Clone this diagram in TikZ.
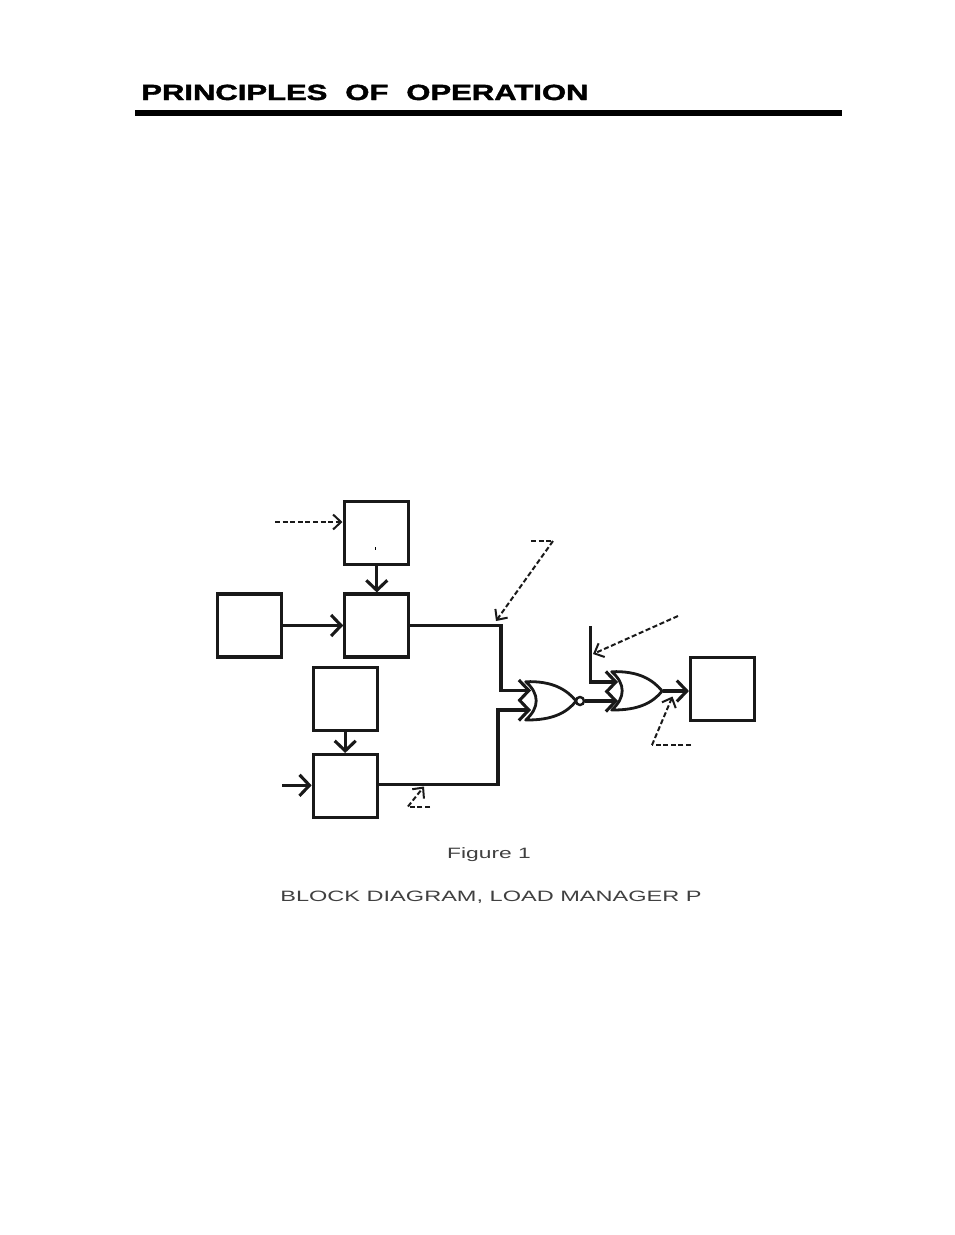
\documentclass[tikz,border=0pt]{standalone}
\usepackage{fontspec}
\setmainfont{Liberation Sans}
\newfontfamily\headfont[FakeBold=1.6]{Liberation Sans Bold}
\usetikzlibrary{arrows.meta}
\tikzset{
wire/.style={line width=3.1pt, color=black!90, line join=miter, -{Straight Barb[length=10pt,width=21pt,line width=3.1pt]}},
hint/.style={line width=2pt, color=black!90, dash pattern=on 5pt off 2.6pt, -{Straight Barb[length=8pt,width=15pt,line width=2pt]}},
plain hint/.style={line width=2pt, color=black!90, dash pattern=on 5pt off 2.6pt},
blockbox/.style={draw=black!90, line width=3.1pt, minimum width=64pt, minimum height=63pt, inner sep=0pt},
gatebody/.pic={
\draw[line width=2.8pt, color=black!90, fill=white, line join=round] (0,0) .. controls (27,-1) and (41,8) .. (50.5,19.3) .. controls (41,31) and (27,38.6) .. (0,38.3) .. controls (14,26) and (14,12) .. cycle;
},
}
\begin{document}
\begin{tikzpicture}[x=1pt,y=-1pt]
\useasboundingbox (0,0) rectangle (954,1235);
% header
\node[anchor=base west, inner sep=0pt, xscale=1.41, font=\headfont\fontsize{22}{22}\selectfont] (title) at (141,100) {PRINCIPLES\hspace{.3em} OF\hspace{.3em} OPERATION};
\fill[black] (135,109.5) rectangle (842,115.5);
% blocks
\node[blockbox] (timer) at (376.8,533) {};
\node[blockbox] (relayA) at (376.8,625.5) {};
\node[blockbox] (source) at (249.2,625.5) {};
\node[blockbox] (sensor) at (345.2,699) {};
\node[blockbox] (relayB) at (345.2,786) {};
\node[blockbox] (output) at (722.5,689) {};
\draw[line width=.5pt] (375,547) -- (375,550);
% gates
\pic at (525.7,681.7) {gatebody};
\pic at (611.7,671.7) {gatebody};
\node[circle, draw=black!90, line width=2.4pt, minimum size=8pt, inner sep=0pt] (bubble) at (580,701) {};
\coordinate (norA) at (531,690.5);
\coordinate (norB) at (531,710);
\coordinate (orA) at (618,682);
\coordinate (orB) at (618,701);
\coordinate (orOut) at (662.5,691);
\coordinate (feedIn) at (282,785.3);
\coordinate (feedTop) at (590.5,626);
% solid wires
\draw[wire] (timer) -- (relayA);
\draw[wire] (source) -- (relayA);
\draw[wire] (sensor) -- (relayB);
\draw[wire] (feedIn) -- (relayB.west |- feedIn);
\draw[wire] (relayA.east) -| (501,690.5) -- (norA);
\draw[wire] ([yshift=1.3pt]relayB.east) -| (498,710) -- (norB);
\draw[wire] (bubble) -- (orB);
\draw[wire] (feedTop) |- (orA);
\draw[wire] (orOut) -- (output.west |- orOut);
% dashed pointers
\coordinate (hintA) at (275,522);
\coordinate (hintAend) at (342.5,522);
\draw[hint] (hintA) -- (hintAend);
\coordinate (hintB) at (531,541);
\coordinate (hintBbend) at (553,541);
\coordinate (hintBend) at (496,621);
\draw[plain hint] (hintB) -- (hintBbend);
\draw[hint] (hintBbend) -- (hintBend);
\coordinate (hintC) at (678,616);
\coordinate (hintCend) at (593,654);
\draw[hint] (hintC) -- (hintCend);
\coordinate (hintD) at (691,745);
\coordinate (hintDbend) at (652,745);
\coordinate (hintDend) at (672.5,696.5);
\draw[plain hint] (hintD) -- (hintDbend);
\draw[hint] (hintDbend) -- (hintDend);
\coordinate (hintE) at (430,806.5);
\coordinate (hintEbend) at (408,806.5);
\coordinate (hintEend) at (424,786.5);
\draw[plain hint] (hintE) -- (hintEbend);
\draw[hint] (hintEbend) -- (hintEend);
% captions
\node[anchor=base, inner sep=0pt, xscale=1.52, font=\fontsize{15}{15}\selectfont, color=black!75] (figlabel) at (489,858) {Figure 1};
\node[anchor=base, inner sep=0pt, xscale=1.57, font=\fontsize{15}{15}\selectfont, color=black!75] (figtitle) at (491,901) {BLOCK DIAGRAM, LOAD MANAGER P};
\end{tikzpicture}
\end{document}
